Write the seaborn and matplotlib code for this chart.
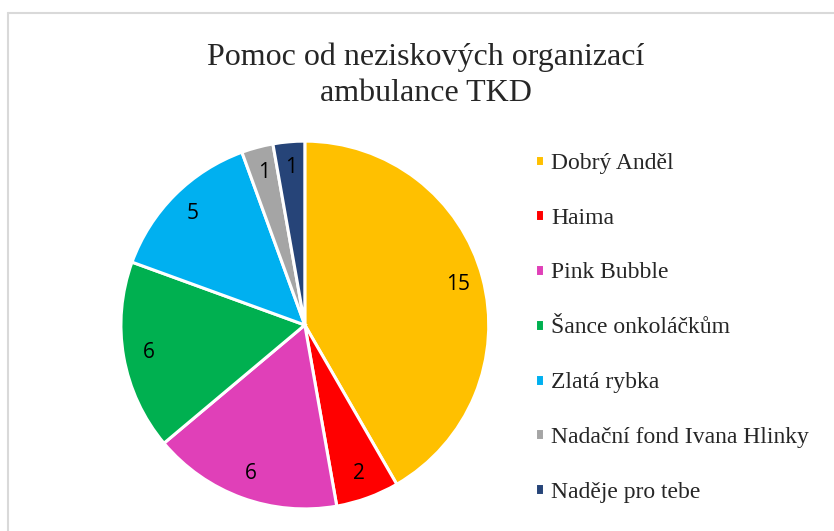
import matplotlib
matplotlib.use("Agg")
import matplotlib.pyplot as plt
import seaborn as sns
from matplotlib.lines import Line2D

organizace = ["Dobrý Anděl", "Haima", "Pink Bubble", "Šance onkoláčkům",
              "Zlatá rybka", "Nadační fond Ivana Hlinky", "Naděje pro tebe"]
pocty = [15, 2, 6, 6, 5, 1, 1]
barvy = ["#FFC000", "#FF0000", "#E040B8", "#00B050",
         "#00B0F0", "#A5A5A5", "#264478"]

sns.set_style("white")
plt.rcParams["font.family"] = ["Liberation Serif", "DejaVu Serif"]

fig = plt.figure(figsize=(8.34, 5.31), dpi=100)

# chart frame (light gray, cut off at right/bottom)
fig.add_artist(Line2D([8/834, 1], [1 - 12.5/531, 1 - 12.5/531],
                      color="#D9D9D9", lw=1.5, transform=fig.transFigure))
fig.add_artist(Line2D([8/834, 8/834], [0, 1 - 12.5/531],
                      color="#D9D9D9", lw=1.5, transform=fig.transFigure))

ax = fig.add_axes([0.145, 0.0414, 0.441, 0.693])
pal = sns.color_palette(barvy)
wedges, _, autotexts = ax.pie(
    pocty, colors=pal, startangle=90, counterclock=False,
    autopct=lambda p: f"{round(p * sum(pocty) / 100):d}", pctdistance=0.86,
    wedgeprops=dict(edgecolor="white", linewidth=2.2),
    textprops=dict(fontsize=15, family=["Open Sans", "DejaVu Sans"], color="black"))
ax.set_xlim(-1, 1)
ax.set_ylim(-1, 1)
ax.set_aspect("equal")

fig.text(0.511, 0.858, "Pomoc od neziskových organizací\nambulance TKD",
         ha="center", va="center", fontsize=23, linespacing=1.32)

fig.legend(wedges, organizace, loc="upper left", bbox_to_anchor=(0.641, 0.712),
           frameon=False, fontsize=17, handlelength=0.4, handleheight=0.4,
           handletextpad=0.3, labelspacing=1.43, borderaxespad=0, borderpad=0)

fig.savefig("out.png", dpi=100)
